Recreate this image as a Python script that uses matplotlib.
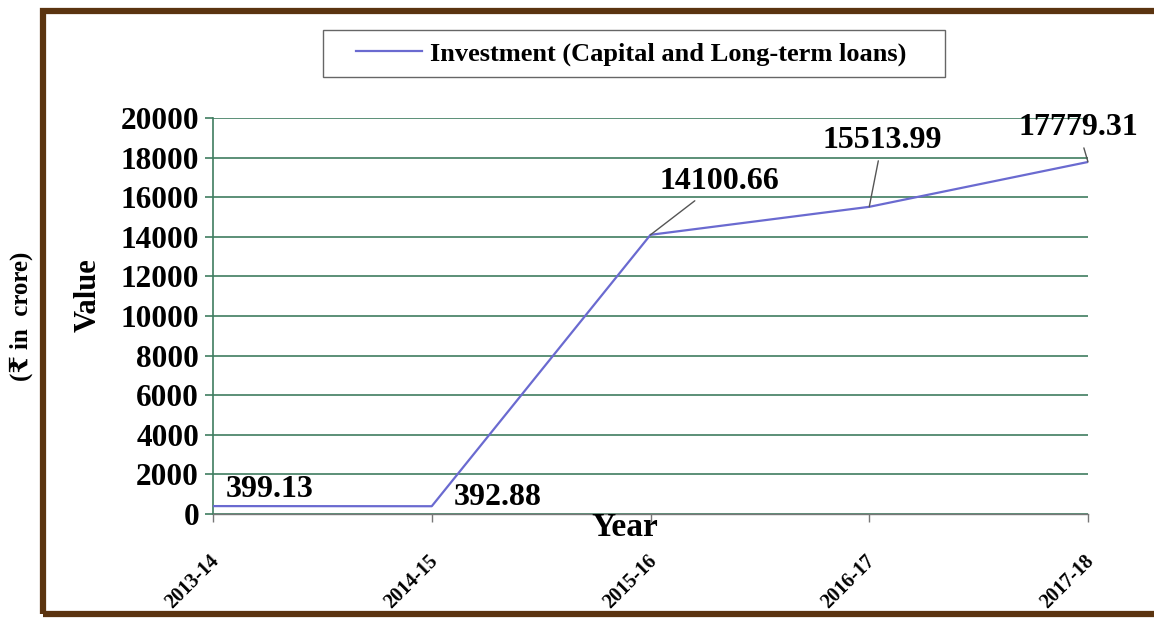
import matplotlib.pyplot as plt
from matplotlib.patches import Rectangle
from matplotlib.transforms import ScaledTranslation

years = ["2013-14", "2014-15", "2015-16", "2016-17", "2017-18"]
investment = [399.13, 392.88, 14100.66, 15513.99, 17779.31]
label_texts = ["399.13", "392.88", "14100.66", "15513.99", "17779.31"]

plt.rcParams['font.family'] = ['Liberation Serif', 'DejaVu Serif', 'DejaVu Sans']
plt.rcParams['font.weight'] = 'bold'

W, H = 1154, 623
fig = plt.figure(figsize=(W / 100, H / 100), dpi=100)
ax = fig.add_axes([213 / W, 1 - 514 / H, (1088 - 213) / W, (514 - 118) / H])

grid_col = "#3f7d60"
line_col = "#6a6ad0"

x = list(range(len(years)))
ax.plot(x, investment, color=line_col, lw=1.6, label="Investment (Capital and Long-term loans)", zorder=3)

ax.set_xlim(0, 4)
ax.set_ylim(0, 20000)
ax.set_yticks(range(0, 20001, 2000))
ax.yaxis.grid(True, color=grid_col, lw=1.2)
ax.set_axisbelow(True)

for s in ["top", "right"]:
    ax.spines[s].set_visible(False)
ax.spines["left"].set_color(grid_col)
ax.spines["left"].set_linewidth(1.2)
ax.spines["bottom"].set_color("#777777")
ax.spines["bottom"].set_linewidth(1.0)

ax.tick_params(axis="y", length=6, color=grid_col, width=1.2, labelsize=22.5, pad=4)
ax.tick_params(axis="x", length=6, color="#777777", width=1.0, labelsize=14.5, pad=21)
ax.set_xticks(x)
ax.set_xticklabels(years, rotation=45, ha="right", rotation_mode="anchor")
for lab in ax.get_xticklabels():
    lab.set_transform(lab.get_transform() + ScaledTranslation(-0.04, 0, fig.dpi_scale_trans))
for lab in ax.get_yticklabels():
    lab.set_fontweight("bold")
for lab in ax.get_xticklabels():
    lab.set_fontweight("bold")

# data labels (offsets in pixels)
offsets = [(57, 17), (66, 9), (69, 53), (13, 66), (-10, 34)]
leaders = [False, False, True, True, True]
for xi, yi, txt, off, lead in zip(x, investment, label_texts, offsets, leaders):
    ax.annotate(txt, (xi, yi), xytext=off, textcoords="offset pixels",
                ha="center", va="center", fontsize=23, fontweight="bold",
                annotation_clip=False,
                arrowprops=dict(arrowstyle="-", color="#555555", lw=1.0,
                                shrinkA=2, shrinkB=0) if lead else None)

leg = ax.legend(loc="center", bbox_to_anchor=(631.5 / W, 1 - 54 / H),
                bbox_transform=fig.transFigure, fontsize=19, frameon=False,
                handlelength=2.5, borderpad=0.4, handletextpad=0.3, borderaxespad=0)
for t in leg.get_texts():
    t.set_fontweight("bold")
# legend box
fig.patches.append(Rectangle((323 / W, 1 - 77 / H), (945 - 323) / W, (77 - 30) / H,
                             transform=fig.transFigure, fill=False,
                             edgecolor="#666666", lw=1.0))

fig.text(88 / W, 1 - 295 / H, "Value", rotation=90, ha="center", va="center",
         fontsize=22, fontweight="bold")
fig.text(21 / W, 1 - 316 / H, "(₹ in  crore)", rotation=90, ha="center", va="center",
         fontsize=18, fontweight="bold")
fig.text(625 / W, 1 - 528 / H, "Year", ha="center", va="center",
         fontsize=24, fontweight="bold")

# brown scanned frame
fig.patches.append(Rectangle((43 / W, 1 - 614 / H), 1.2, (614 - 11) / H,
                             transform=fig.transFigure, fill=False,
                             edgecolor="#5b3410", lw=4.5, zorder=10))

fig.savefig("out.png", dpi=100)
